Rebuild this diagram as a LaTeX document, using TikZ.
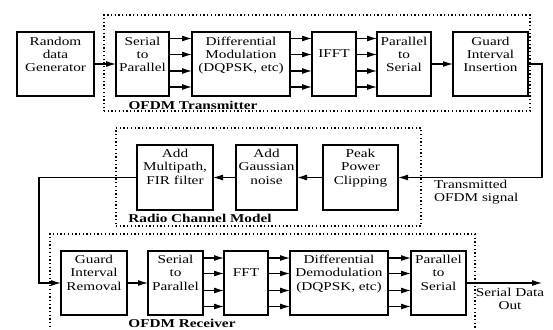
\documentclass[tikz,border=0pt]{standalone}
\usepackage{fontspec}
\setmainfont{Liberation Serif}[FakeStretch=1.27]
\usetikzlibrary{arrows.meta,calc}
\begin{document}
\begin{tikzpicture}[x=1pt,y=-1pt,
 blk/.style={draw, line width=1.1pt, anchor=north west, inner sep=0pt, outer sep=0pt, minimum height=64pt},
 txt/.style={font=\fontsize{12}{13.3}\selectfont, align=center, inner sep=0pt, anchor=north},
 grp/.style={draw, line width=1.1pt, dash pattern=on 1.3pt off 2.4pt, anchor=north west, inner sep=0pt, outer sep=0pt},
 lbl/.style={font=\fontsize{12}{13}\selectfont\bfseries, inner sep=0pt},
 arr/.style={line width=1.1pt, -{Latex[length=10pt,width=6pt]}}]

\useasboundingbox (0,0) rectangle (553,329);
\clip (0,0) rectangle (553,329);

% groups
\node[grp, minimum width=426pt, minimum height=96pt] (txG) at (104,15) {};
\node[grp, minimum width=305pt, minimum height=98pt] (chG) at (116,128) {};
\node[grp, minimum width=425pt, minimum height=120pt] (rxG) at (50,234) {};

% row 1
\node[blk, minimum width=77pt] (rnd) at (17,32) {};
\node[blk, minimum width=53pt] (sp1) at (116,32) {};
\node[blk, minimum width=98pt] (dmod) at (192,32) {};
\node[blk, minimum width=44pt] (ifft) at (312,32) {};
\node[blk, minimum width=54pt] (ps1) at (377,32) {};
\node[blk, minimum width=75pt] (gii) at (453,32) {};

\node[txt] (rndT) at ([yshift=-4.5pt]rnd.north) {Random\\data\\Generator};
\node[txt] (sp1T) at ([yshift=-4.5pt]sp1.north) {Serial\\to\\Parallel};
\node[txt] (dmodT) at ([yshift=-4.5pt]dmod.north) {Differential\\Modulation\\(DQPSK, etc)};
\node[txt] (ifftT) at ([yshift=-17.8pt]ifft.north) {IFFT};
\node[txt] (ps1T) at ([yshift=-4.5pt]ps1.north) {Parallel\\to\\Serial};
\node[txt] (giiT) at ([yshift=-4.5pt]gii.north) {Guard\\Interval\\Insertion};

% row 2
\node[blk, minimum width=76pt, minimum height=65pt] (fir) at (137,145) {};
\node[blk, minimum width=61pt, minimum height=65pt] (gau) at (236,145) {};
\node[blk, minimum width=75pt, minimum height=65pt] (ppc) at (323,145) {};

\node[txt] (firT) at ([yshift=-4pt]fir.north) {Add\\Multipath,\\FIR filter};
\node[txt] (gauT) at ([yshift=-4pt]gau.north) {Add\\Gaussian\\noise};
\node[txt] (ppcT) at ([yshift=-4pt]ppc.north) {Peak\\Power\\Clipping};

% row 3
\node[blk, minimum width=66pt] (gri) at (61,251) {};
\node[blk, minimum width=55pt] (sp2) at (148,251) {};
\node[blk, minimum width=44pt] (fft) at (224,251) {};
\node[blk, minimum width=98pt] (ddm) at (290,251) {};
\node[blk, minimum width=55pt] (ps2) at (411,251) {};

\node[txt] (griT) at ([yshift=-4pt]gri.north) {Guard\\Interval\\Removal};
\node[txt] (sp2T) at ([yshift=-4pt]sp2.north) {Serial\\to\\Parallel};
\node[txt] (fftT) at ([yshift=-17.3pt]fft.north) {FFT};
\node[txt] (ddmT) at ([yshift=-4pt]ddm.north) {Differential\\Demodulation\\(DQPSK, etc)};
\node[txt] (ps2T) at ([yshift=-4pt]ps2.north) {Parallel\\to\\Serial};

% labels
\node[lbl] (txL) at (193,105) {OFDM Transmitter};
\node[lbl] (chL) at (200,218) {Radio Channel Model};
\node[lbl] (rxL) at (182,323) {OFDM Receiver};
\node[txt, align=left, anchor=north west] (tsig) at (434,179.5) {Transmitted\\OFDM signal};
\node[txt] (sdo) at (510,287.5) {Serial Data\\Out};

% connectors row 1
\draw[arr] (rnd.east) -- (sp1.west);
\foreach \d in {6.5,22.5,39,55} {
  \draw[arr] ([yshift=-\d pt]sp1.north east) -- ([yshift=-\d pt]dmod.north west);
  \draw[arr] ([yshift=-\d pt]dmod.north east) -- ([yshift=-\d pt]ifft.north west);
  \draw[arr] ([yshift=-\d pt]ifft.north east) -- ([yshift=-\d pt]ps1.north west);
}
\draw[arr] (ps1.east) -- (gii.west);

% channel
\coordinate (c1) at (542,64);
\coordinate (c2) at (542,177.5);
\draw[arr] (gii.east) -- (c1) -- (c2) -- (ppc.east);
\draw[arr] (ppc.west) -- (gau.east);
\draw[arr] (gau.west) -- (fir.east);
\coordinate (c3) at (39,177.5);
\coordinate (c4) at (39,283);
\draw[arr] (fir.west) -- (c3) -- (c4) -- (gri.west);

% row 3
\draw[arr] (gri.east) -- (sp2.west);
\foreach \d in {7,22.5,39.5,55.5} {
  \draw[arr] ([yshift=-\d pt]sp2.north east) -- ([yshift=-\d pt]fft.north west);
  \draw[arr] ([yshift=-\d pt]fft.north east) -- ([yshift=-\d pt]ddm.north west);
  \draw[arr] ([yshift=-\d pt]ddm.north east) -- ([yshift=-\d pt]ps2.north west);
}
\coordinate (out) at (542,283);
\draw[arr] (ps2.east) -- (out);
\end{tikzpicture}
\end{document}
